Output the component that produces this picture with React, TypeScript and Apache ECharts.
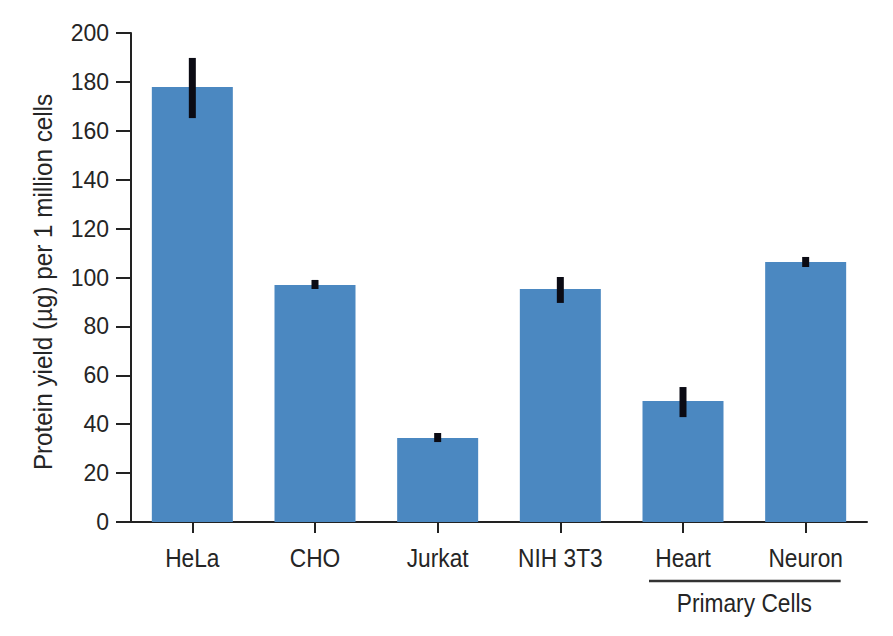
import React, { useEffect, useRef } from "react";
import * as echarts from "echarts";

const categories = ["HeLa", "CHO", "Jurkat", "NIH 3T3", "Heart", "Neuron"];
const yieldValues = [177.9, 96.9, 34.4, 95.3, 49.5, 106.3];
const errorLow = [165.2, 95.3, 32.7, 89.6, 42.9, 104.3];
const errorHigh = [189.8, 99.0, 36.4, 100.2, 55.2, 108.4];
const yTicks = ["0", "20", "40", "60", "80", "100", "120", "140", "160", "180", "200"];
const groupLabel = "Primary Cells";
const groupMembers = ["Heart", "Neuron"];
const yAxisTitle = "Protein yield (µg) per 1 million cells";

const REG = "'Liberation Sans', Arial, sans-serif";
const TXT = "#252525";

export default function App() {
  const ref = useRef<HTMLDivElement>(null);
  useEffect(() => {
    if (!ref.current) return;
    const chart = echarts.init(ref.current, null, { renderer: "svg" });
    const errData = categories.map((c, i) => [i, errorLow[i], errorHigh[i]]);
    chart.setOption({
      animation: false,
      backgroundColor: "#ffffff",
      grid: { left: 131, top: 33, right: 26, bottom: 114, containLabel: false },
      xAxis: {
        type: "category",
        data: categories,
        boundaryGap: true,
        axisLine: { show: true, lineStyle: { color: "#222", width: 2 } },
        axisTick: { show: true, alignWithLabel: true, length: 11, lineStyle: { color: "#222", width: 2 } },
        axisLabel: { show: false },
        splitLine: { show: false },
      },
      yAxis: {
        type: "value",
        min: 0,
        max: 200,
        interval: 20,
        axisLine: { show: true, lineStyle: { color: "#222", width: 2 } },
        axisTick: { show: true, length: 15, lineStyle: { color: "#222", width: 2 } },
        axisLabel: {
          color: TXT,
          fontFamily: REG,
          fontSize: 23,
          margin: 22,
          formatter: (v: number) => yTicks[Math.round(v / 20)] ?? String(v),
        },
        splitLine: { show: false },
      },
      series: [
        {
          type: "bar",
          data: yieldValues,
          barWidth: 81,
          itemStyle: { color: "#4b88c1" },
        },
        {
          type: "custom",
          data: errData,
          z: 10,
          renderItem: (params: any, api: any) => {
            const i = api.value(0);
            const lo = api.coord([i, api.value(1)]);
            const hi = api.coord([i, api.value(2)]);
            return {
              type: "rect",
              shape: { x: lo[0] - 3.5, y: hi[1], width: 7, height: lo[1] - hi[1] },
              style: { fill: "#0b0b14" },
            };
          },
        },
      ],
    });
    const px = (i: number) => chart.convertToPixel({ xAxisIndex: 0 }, i) as number;
    const a = px(categories.indexOf(groupMembers[0]));
    const b = px(categories.indexOf(groupMembers[1]));
    const labelText = (text: string, x: number, y: number) => ({
      type: "text",
      x,
      y,
      scaleX: 0.91,
      style: {
        text,
        fontFamily: REG,
        fontSize: 25,
        fill: TXT,
        textAlign: "center",
        textVerticalAlign: "middle",
      },
    });
    chart.setOption({
      graphic: [
        {
          type: "text",
          x: 43,
          y: 282,
          rotation: Math.PI / 2,
          scaleX: 0.97,
          style: {
            text: yAxisTitle,
            fontFamily: REG,
            fontSize: 25,
            fill: TXT,
            textAlign: "center",
            textVerticalAlign: "middle",
          },
        },
        ...categories.map((c, i) => labelText(c, px(i), 558)),
        {
          type: "line",
          shape: { x1: a - 34, y1: 581, x2: b + 35, y2: 581 },
          style: { stroke: "#333", lineWidth: 2.5 },
        },
        labelText(groupLabel, (a + b) / 2, 603),
      ],
    });
    return () => chart.dispose();
  }, []);
  return (
    <div
      ref={ref}
      style={{ position: "fixed", left: 0, top: 0, width: 893, height: 636, background: "#fff" }}
    />
  );
}
